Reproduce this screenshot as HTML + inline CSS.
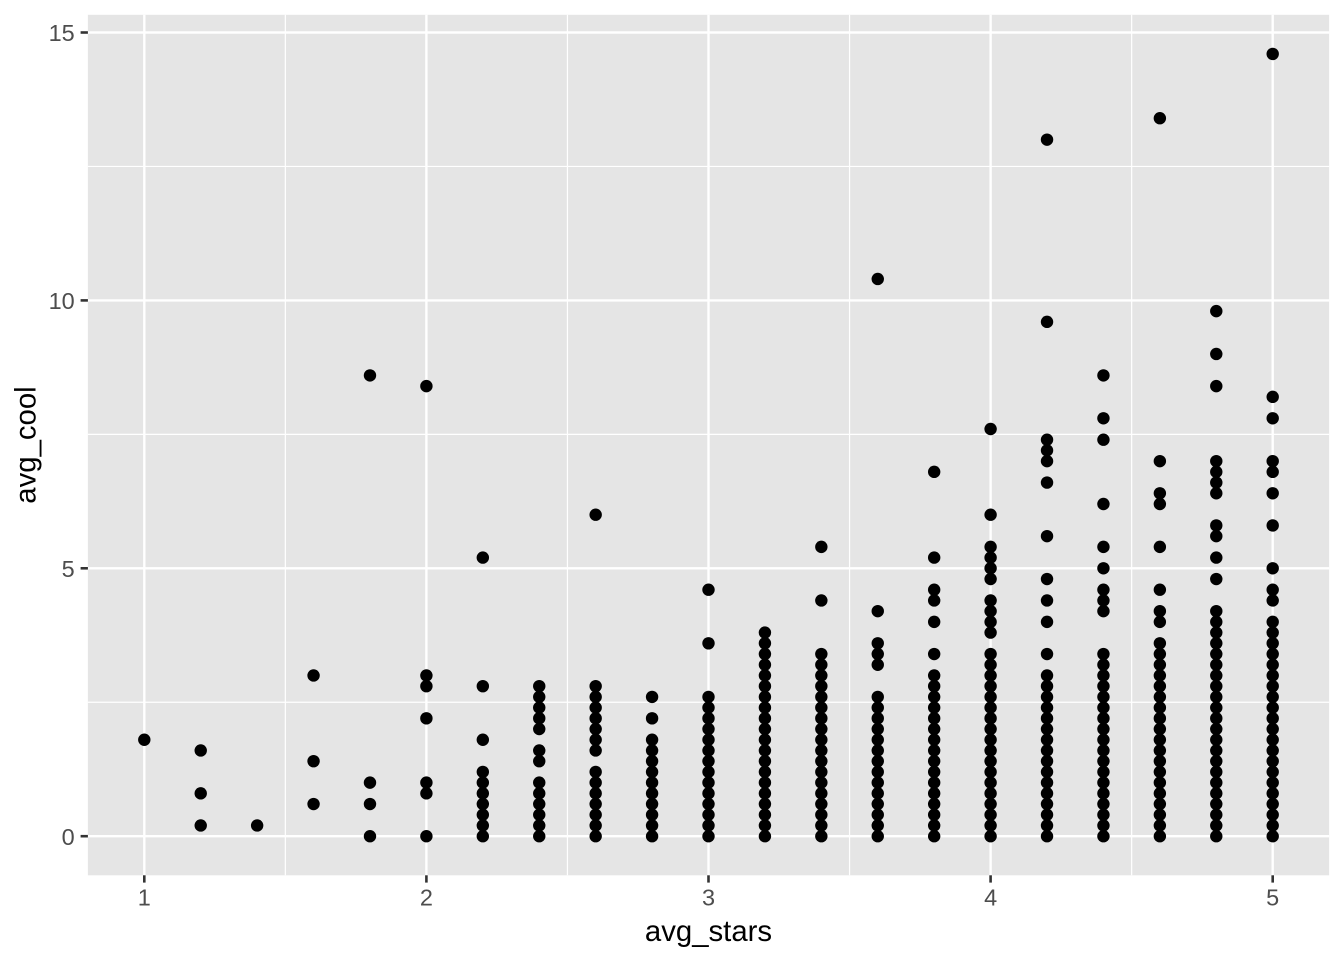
<!DOCTYPE html>
<html><head><meta charset="utf-8"><style>
html,body{margin:0;padding:0;background:#fff;}
svg{display:block;}
</style></head><body>
<svg width="1344" height="960" viewBox="0 0 1344 960" xmlns="http://www.w3.org/2000/svg">
<rect x="0" y="0" width="1344" height="960" fill="#fff"/>
<rect x="87.9" y="14.8" width="1241.2" height="860.5" fill="#E5E5E5"/>
<g stroke="#fff" stroke-width="1.2">
<line x1="87.9" x2="1329.1" y1="702.25" y2="702.25"/>
<line x1="87.9" x2="1329.1" y1="434.35" y2="434.35"/>
<line x1="87.9" x2="1329.1" y1="166.45" y2="166.45"/>
<line y1="14.8" y2="875.3" x1="285.35" x2="285.35"/>
<line y1="14.8" y2="875.3" x1="567.45" x2="567.45"/>
<line y1="14.8" y2="875.3" x1="849.55" x2="849.55"/>
<line y1="14.8" y2="875.3" x1="1131.65" x2="1131.65"/>
</g>
<g stroke="#fff" stroke-width="2.4">
<line x1="87.9" x2="1329.1" y1="836.2" y2="836.2"/>
<line x1="87.9" x2="1329.1" y1="568.3" y2="568.3"/>
<line x1="87.9" x2="1329.1" y1="300.4" y2="300.4"/>
<line x1="87.9" x2="1329.1" y1="32.5" y2="32.5"/>
<line y1="14.8" y2="875.3" x1="144.3" x2="144.3"/>
<line y1="14.8" y2="875.3" x1="426.4" x2="426.4"/>
<line y1="14.8" y2="875.3" x1="708.5" x2="708.5"/>
<line y1="14.8" y2="875.3" x1="990.6" x2="990.6"/>
<line y1="14.8" y2="875.3" x1="1272.7" x2="1272.7"/>
</g>
<g stroke="#333" stroke-width="2.6">
<line x1="80.6" x2="87.9" y1="836.2" y2="836.2"/>
<line x1="80.6" x2="87.9" y1="568.3" y2="568.3"/>
<line x1="80.6" x2="87.9" y1="300.4" y2="300.4"/>
<line x1="80.6" x2="87.9" y1="32.5" y2="32.5"/>
<line y1="875.3" y2="882.6" x1="144.3" x2="144.3"/>
<line y1="875.3" y2="882.6" x1="426.4" x2="426.4"/>
<line y1="875.3" y2="882.6" x1="708.5" x2="708.5"/>
<line y1="875.3" y2="882.6" x1="990.6" x2="990.6"/>
<line y1="875.3" y2="882.6" x1="1272.7" x2="1272.7"/>
</g>
<g font-family="Liberation Sans, Arial, sans-serif" font-size="23.47" fill="#4D4D4D">
<text x="74.7" y="844.9" text-anchor="end">0</text>
<text x="74.7" y="577.0" text-anchor="end">5</text>
<text x="74.7" y="309.1" text-anchor="end">10</text>
<text x="74.7" y="41.2" text-anchor="end">15</text>
<text x="144.3" y="905.5" text-anchor="middle">1</text>
<text x="426.4" y="905.5" text-anchor="middle">2</text>
<text x="708.5" y="905.5" text-anchor="middle">3</text>
<text x="990.6" y="905.5" text-anchor="middle">4</text>
<text x="1272.7" y="905.5" text-anchor="middle">5</text>
</g>
<g font-family="Liberation Sans, Arial, sans-serif" font-size="29.33" fill="#000">
<text x="708.5" y="941" text-anchor="middle">avg_stars</text>
<text transform="translate(35.5,445) rotate(-90)" x="0" y="0" text-anchor="middle">avg_cool</text>
</g>
<g fill="#000">
<!-- 1.0 -->
<g transform="translate(144.3,0)"><circle cy="739.76" r="6.2"/></g>
<!-- 1.2 -->
<g transform="translate(200.72,0)"><circle cy="750.47" r="6.2"/><circle cy="793.34" r="6.2"/><circle cy="825.48" r="6.2"/></g>
<!-- 1.4 -->
<g transform="translate(257.14,0)"><circle cy="825.48" r="6.2"/></g>
<!-- 1.6 -->
<g transform="translate(313.56,0)"><circle cy="675.46" r="6.2"/><circle cy="761.19" r="6.2"/><circle cy="804.05" r="6.2"/></g>
<!-- 1.8 -->
<g transform="translate(369.98,0)"><circle cy="375.41" r="6.2"/><circle cy="782.62" r="6.2"/><circle cy="804.05" r="6.2"/><circle cy="836.2" r="6.2"/></g>
<!-- 2.0 -->
<g transform="translate(426.4,0)"><circle cy="386.13" r="6.2"/><circle cy="675.46" r="6.2"/><circle cy="686.18" r="6.2"/><circle cy="718.32" r="6.2"/><circle cy="782.62" r="6.2"/><circle cy="793.34" r="6.2"/><circle cy="836.2" r="6.2"/></g>
<!-- 2.2 -->
<g transform="translate(482.82,0)"><circle cy="557.58" r="6.2"/><circle cy="686.18" r="6.2"/><circle cy="739.76" r="6.2"/><circle cy="771.9" r="6.2"/><circle cy="782.62" r="6.2"/><circle cy="793.34" r="6.2"/><circle cy="804.05" r="6.2"/><circle cy="814.77" r="6.2"/><circle cy="825.48" r="6.2"/><circle cy="836.2" r="6.2"/></g>
<!-- 2.4 -->
<g transform="translate(539.24,0)"><circle cy="686.18" r="6.2"/><circle cy="696.89" r="6.2"/><circle cy="707.61" r="6.2"/><circle cy="718.32" r="6.2"/><circle cy="729.04" r="6.2"/><circle cy="750.47" r="6.2"/><circle cy="761.19" r="6.2"/><circle cy="782.62" r="6.2"/><circle cy="793.34" r="6.2"/><circle cy="804.05" r="6.2"/><circle cy="814.77" r="6.2"/><circle cy="825.48" r="6.2"/><circle cy="836.2" r="6.2"/></g>
<!-- 2.6 -->
<g transform="translate(595.66,0)"><circle cy="514.72" r="6.2"/><circle cy="686.18" r="6.2"/><circle cy="696.89" r="6.2"/><circle cy="707.61" r="6.2"/><circle cy="718.32" r="6.2"/><circle cy="729.04" r="6.2"/><circle cy="739.76" r="6.2"/><circle cy="750.47" r="6.2"/><circle cy="771.9" r="6.2"/><circle cy="782.62" r="6.2"/><circle cy="793.34" r="6.2"/><circle cy="804.05" r="6.2"/><circle cy="814.77" r="6.2"/><circle cy="825.48" r="6.2"/><circle cy="836.2" r="6.2"/></g>
<!-- 2.8 -->
<g transform="translate(652.08,0)"><circle cy="696.89" r="6.2"/><circle cy="718.32" r="6.2"/><circle cy="739.76" r="6.2"/><circle cy="750.47" r="6.2"/><circle cy="761.19" r="6.2"/><circle cy="771.9" r="6.2"/><circle cy="782.62" r="6.2"/><circle cy="793.34" r="6.2"/><circle cy="804.05" r="6.2"/><circle cy="814.77" r="6.2"/><circle cy="825.48" r="6.2"/><circle cy="836.2" r="6.2"/></g>
<!-- 3.0 -->
<g transform="translate(708.5,0)"><circle cy="589.73" r="6.2"/><circle cy="643.31" r="6.2"/><circle cy="696.89" r="6.2"/><circle cy="707.61" r="6.2"/><circle cy="718.32" r="6.2"/><circle cy="729.04" r="6.2"/><circle cy="739.76" r="6.2"/><circle cy="750.47" r="6.2"/><circle cy="761.19" r="6.2"/><circle cy="771.9" r="6.2"/><circle cy="782.62" r="6.2"/><circle cy="793.34" r="6.2"/><circle cy="804.05" r="6.2"/><circle cy="814.77" r="6.2"/><circle cy="825.48" r="6.2"/><circle cy="836.2" r="6.2"/></g>
<!-- 3.2 -->
<g transform="translate(764.92,0)"><circle cy="632.6" r="6.2"/><circle cy="643.31" r="6.2"/><circle cy="654.03" r="6.2"/><circle cy="664.74" r="6.2"/><circle cy="675.46" r="6.2"/><circle cy="686.18" r="6.2"/><circle cy="696.89" r="6.2"/><circle cy="707.61" r="6.2"/><circle cy="718.32" r="6.2"/><circle cy="729.04" r="6.2"/><circle cy="739.76" r="6.2"/><circle cy="750.47" r="6.2"/><circle cy="761.19" r="6.2"/><circle cy="771.9" r="6.2"/><circle cy="782.62" r="6.2"/><circle cy="793.34" r="6.2"/><circle cy="804.05" r="6.2"/><circle cy="814.77" r="6.2"/><circle cy="825.48" r="6.2"/><circle cy="836.2" r="6.2"/></g>
<!-- 3.4 -->
<g transform="translate(821.34,0)"><circle cy="546.87" r="6.2"/><circle cy="600.45" r="6.2"/><circle cy="654.03" r="6.2"/><circle cy="664.74" r="6.2"/><circle cy="675.46" r="6.2"/><circle cy="686.18" r="6.2"/><circle cy="696.89" r="6.2"/><circle cy="707.61" r="6.2"/><circle cy="718.32" r="6.2"/><circle cy="729.04" r="6.2"/><circle cy="739.76" r="6.2"/><circle cy="750.47" r="6.2"/><circle cy="761.19" r="6.2"/><circle cy="771.9" r="6.2"/><circle cy="782.62" r="6.2"/><circle cy="793.34" r="6.2"/><circle cy="804.05" r="6.2"/><circle cy="814.77" r="6.2"/><circle cy="825.48" r="6.2"/><circle cy="836.2" r="6.2"/></g>
<!-- 3.6 -->
<g transform="translate(877.76,0)"><circle cy="278.97" r="6.2"/><circle cy="611.16" r="6.2"/><circle cy="643.31" r="6.2"/><circle cy="654.03" r="6.2"/><circle cy="664.74" r="6.2"/><circle cy="696.89" r="6.2"/><circle cy="707.61" r="6.2"/><circle cy="718.32" r="6.2"/><circle cy="729.04" r="6.2"/><circle cy="739.76" r="6.2"/><circle cy="750.47" r="6.2"/><circle cy="761.19" r="6.2"/><circle cy="771.9" r="6.2"/><circle cy="782.62" r="6.2"/><circle cy="793.34" r="6.2"/><circle cy="804.05" r="6.2"/><circle cy="814.77" r="6.2"/><circle cy="825.48" r="6.2"/><circle cy="836.2" r="6.2"/></g>
<!-- 3.8 -->
<g transform="translate(934.18,0)"><circle cy="471.86" r="6.2"/><circle cy="557.58" r="6.2"/><circle cy="589.73" r="6.2"/><circle cy="600.45" r="6.2"/><circle cy="621.88" r="6.2"/><circle cy="654.03" r="6.2"/><circle cy="675.46" r="6.2"/><circle cy="686.18" r="6.2"/><circle cy="696.89" r="6.2"/><circle cy="707.61" r="6.2"/><circle cy="718.32" r="6.2"/><circle cy="729.04" r="6.2"/><circle cy="739.76" r="6.2"/><circle cy="750.47" r="6.2"/><circle cy="761.19" r="6.2"/><circle cy="771.9" r="6.2"/><circle cy="782.62" r="6.2"/><circle cy="793.34" r="6.2"/><circle cy="804.05" r="6.2"/><circle cy="814.77" r="6.2"/><circle cy="825.48" r="6.2"/><circle cy="836.2" r="6.2"/></g>
<!-- 4.0 -->
<g transform="translate(990.6,0)"><circle cy="428.99" r="6.2"/><circle cy="514.72" r="6.2"/><circle cy="546.87" r="6.2"/><circle cy="557.58" r="6.2"/><circle cy="568.3" r="6.2"/><circle cy="579.02" r="6.2"/><circle cy="600.45" r="6.2"/><circle cy="611.16" r="6.2"/><circle cy="621.88" r="6.2"/><circle cy="632.6" r="6.2"/><circle cy="654.03" r="6.2"/><circle cy="664.74" r="6.2"/><circle cy="675.46" r="6.2"/><circle cy="686.18" r="6.2"/><circle cy="696.89" r="6.2"/><circle cy="707.61" r="6.2"/><circle cy="718.32" r="6.2"/><circle cy="729.04" r="6.2"/><circle cy="739.76" r="6.2"/><circle cy="750.47" r="6.2"/><circle cy="761.19" r="6.2"/><circle cy="771.9" r="6.2"/><circle cy="782.62" r="6.2"/><circle cy="793.34" r="6.2"/><circle cy="804.05" r="6.2"/><circle cy="814.77" r="6.2"/><circle cy="825.48" r="6.2"/><circle cy="836.2" r="6.2"/></g>
<!-- 4.2 -->
<g transform="translate(1047.02,0)"><circle cy="139.66" r="6.2"/><circle cy="321.83" r="6.2"/><circle cy="439.71" r="6.2"/><circle cy="450.42" r="6.2"/><circle cy="461.14" r="6.2"/><circle cy="482.57" r="6.2"/><circle cy="536.15" r="6.2"/><circle cy="579.02" r="6.2"/><circle cy="600.45" r="6.2"/><circle cy="621.88" r="6.2"/><circle cy="654.03" r="6.2"/><circle cy="675.46" r="6.2"/><circle cy="686.18" r="6.2"/><circle cy="696.89" r="6.2"/><circle cy="707.61" r="6.2"/><circle cy="718.32" r="6.2"/><circle cy="729.04" r="6.2"/><circle cy="739.76" r="6.2"/><circle cy="750.47" r="6.2"/><circle cy="761.19" r="6.2"/><circle cy="771.9" r="6.2"/><circle cy="782.62" r="6.2"/><circle cy="793.34" r="6.2"/><circle cy="804.05" r="6.2"/><circle cy="814.77" r="6.2"/><circle cy="825.48" r="6.2"/><circle cy="836.2" r="6.2"/></g>
<!-- 4.4 -->
<g transform="translate(1103.44,0)"><circle cy="375.41" r="6.2"/><circle cy="418.28" r="6.2"/><circle cy="439.71" r="6.2"/><circle cy="504.0" r="6.2"/><circle cy="546.87" r="6.2"/><circle cy="568.3" r="6.2"/><circle cy="589.73" r="6.2"/><circle cy="600.45" r="6.2"/><circle cy="611.16" r="6.2"/><circle cy="654.03" r="6.2"/><circle cy="664.74" r="6.2"/><circle cy="675.46" r="6.2"/><circle cy="686.18" r="6.2"/><circle cy="696.89" r="6.2"/><circle cy="707.61" r="6.2"/><circle cy="718.32" r="6.2"/><circle cy="729.04" r="6.2"/><circle cy="739.76" r="6.2"/><circle cy="750.47" r="6.2"/><circle cy="761.19" r="6.2"/><circle cy="771.9" r="6.2"/><circle cy="782.62" r="6.2"/><circle cy="793.34" r="6.2"/><circle cy="804.05" r="6.2"/><circle cy="814.77" r="6.2"/><circle cy="825.48" r="6.2"/><circle cy="836.2" r="6.2"/></g>
<!-- 4.6 -->
<g transform="translate(1159.86,0)"><circle cy="118.23" r="6.2"/><circle cy="461.14" r="6.2"/><circle cy="493.29" r="6.2"/><circle cy="504.0" r="6.2"/><circle cy="546.87" r="6.2"/><circle cy="589.73" r="6.2"/><circle cy="611.16" r="6.2"/><circle cy="621.88" r="6.2"/><circle cy="643.31" r="6.2"/><circle cy="654.03" r="6.2"/><circle cy="664.74" r="6.2"/><circle cy="675.46" r="6.2"/><circle cy="686.18" r="6.2"/><circle cy="696.89" r="6.2"/><circle cy="707.61" r="6.2"/><circle cy="718.32" r="6.2"/><circle cy="729.04" r="6.2"/><circle cy="739.76" r="6.2"/><circle cy="750.47" r="6.2"/><circle cy="761.19" r="6.2"/><circle cy="771.9" r="6.2"/><circle cy="782.62" r="6.2"/><circle cy="793.34" r="6.2"/><circle cy="804.05" r="6.2"/><circle cy="814.77" r="6.2"/><circle cy="825.48" r="6.2"/><circle cy="836.2" r="6.2"/></g>
<!-- 4.8 -->
<g transform="translate(1216.28,0)"><circle cy="311.12" r="6.2"/><circle cy="353.98" r="6.2"/><circle cy="386.13" r="6.2"/><circle cy="461.14" r="6.2"/><circle cy="471.86" r="6.2"/><circle cy="482.57" r="6.2"/><circle cy="493.29" r="6.2"/><circle cy="525.44" r="6.2"/><circle cy="536.15" r="6.2"/><circle cy="557.58" r="6.2"/><circle cy="579.02" r="6.2"/><circle cy="611.16" r="6.2"/><circle cy="621.88" r="6.2"/><circle cy="632.6" r="6.2"/><circle cy="643.31" r="6.2"/><circle cy="654.03" r="6.2"/><circle cy="664.74" r="6.2"/><circle cy="675.46" r="6.2"/><circle cy="686.18" r="6.2"/><circle cy="696.89" r="6.2"/><circle cy="707.61" r="6.2"/><circle cy="718.32" r="6.2"/><circle cy="729.04" r="6.2"/><circle cy="739.76" r="6.2"/><circle cy="750.47" r="6.2"/><circle cy="761.19" r="6.2"/><circle cy="771.9" r="6.2"/><circle cy="782.62" r="6.2"/><circle cy="793.34" r="6.2"/><circle cy="804.05" r="6.2"/><circle cy="814.77" r="6.2"/><circle cy="825.48" r="6.2"/><circle cy="836.2" r="6.2"/></g>
<!-- 5.0 -->
<g transform="translate(1272.7,0)"><circle cy="53.93" r="6.2"/><circle cy="396.84" r="6.2"/><circle cy="418.28" r="6.2"/><circle cy="461.14" r="6.2"/><circle cy="471.86" r="6.2"/><circle cy="493.29" r="6.2"/><circle cy="525.44" r="6.2"/><circle cy="568.3" r="6.2"/><circle cy="589.73" r="6.2"/><circle cy="600.45" r="6.2"/><circle cy="621.88" r="6.2"/><circle cy="632.6" r="6.2"/><circle cy="643.31" r="6.2"/><circle cy="654.03" r="6.2"/><circle cy="664.74" r="6.2"/><circle cy="675.46" r="6.2"/><circle cy="686.18" r="6.2"/><circle cy="696.89" r="6.2"/><circle cy="707.61" r="6.2"/><circle cy="718.32" r="6.2"/><circle cy="729.04" r="6.2"/><circle cy="739.76" r="6.2"/><circle cy="750.47" r="6.2"/><circle cy="761.19" r="6.2"/><circle cy="771.9" r="6.2"/><circle cy="782.62" r="6.2"/><circle cy="793.34" r="6.2"/><circle cy="804.05" r="6.2"/><circle cy="814.77" r="6.2"/><circle cy="825.48" r="6.2"/><circle cy="836.2" r="6.2"/></g>
</g>
</svg>
</body></html>
